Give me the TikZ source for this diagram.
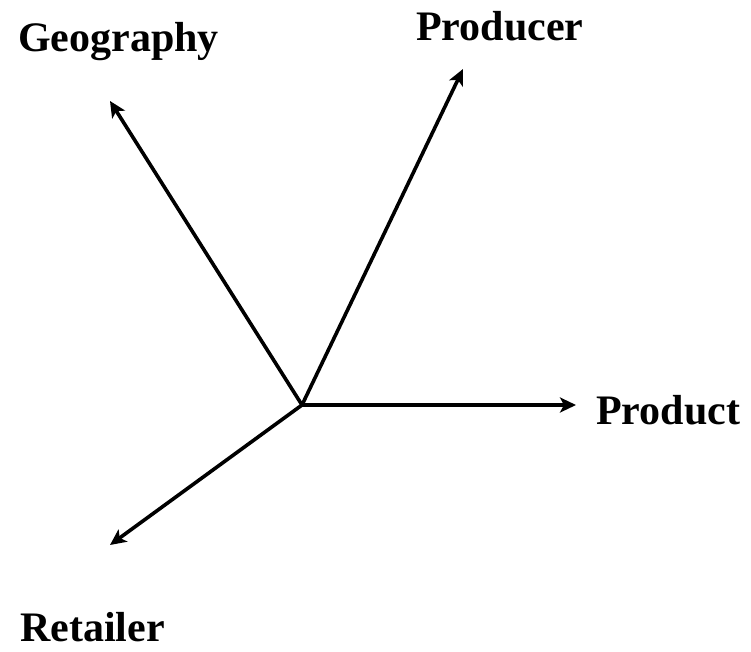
\documentclass[tikz,border=0pt]{standalone}
\usepackage{fontspec}
\setmainfont{Liberation Serif}
\usetikzlibrary{arrows.meta}
\begin{document}
\begin{tikzpicture}[x=1pt,y=-1pt,
  lbl/.style={anchor=base west,inner sep=0pt,font=\fontsize{42}{50}\selectfont\bfseries},
  axis/.style={line width=3.6pt,-{Stealth[length=16pt,width=15pt,inset=4pt]}}]
\useasboundingbox (0,0) rectangle (751,652);
\coordinate (o) at (302,405);
\coordinate (tgeo) at (110,101);
\coordinate (tprod) at (463,69);
\coordinate (tpt) at (576,405);
\coordinate (tret) at (110,545);
\draw[axis] (o) -- (tgeo);
\draw[axis] (o) -- (tprod);
\draw[axis] (o) -- (tpt);
\draw[axis] (o) -- (tret);
\node[lbl] (geo) at (18,52) {Geography};
\node[lbl] (producer) at (416,41) {Producer};
\node[lbl] (product) at (596,424) {Product};
\node[lbl] (retailer) at (20,641) {Retailer};
\end{tikzpicture}
\end{document}
